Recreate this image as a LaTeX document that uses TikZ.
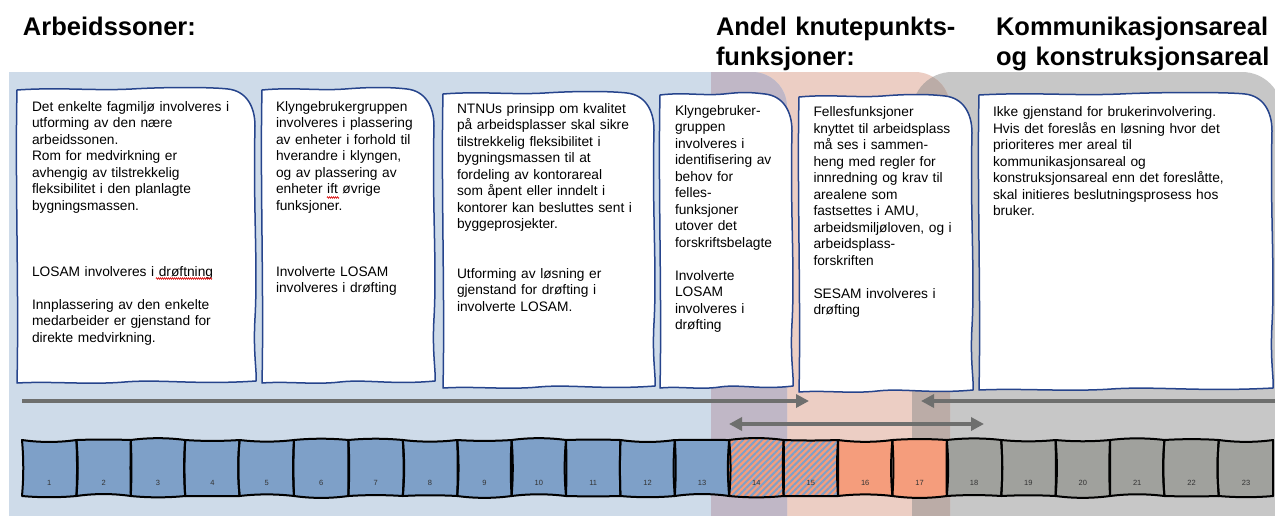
\documentclass[tikz,border=0pt]{standalone}
\usepackage{fontspec}
\setmainfont{Liberation Sans}
\usetikzlibrary{arrows.meta,patterns.meta,decorations.pathmorphing}

\definecolor{bgblue}{RGB}{206,219,233}
\definecolor{bgmauve}{RGB}{192,183,198}
\definecolor{bgpink}{RGB}{236,206,196}
\definecolor{bgbrown}{RGB}{187,172,167}
\definecolor{bggray}{RGB}{199,199,199}
\definecolor{sqblue}{RGB}{126,160,200}
\definecolor{sqsalmon}{RGB}{245,157,124}
\definecolor{sqgray}{RGB}{160,161,157}
\definecolor{tbline}{RGB}{38,68,140}
\definecolor{arrowgray}{RGB}{110,111,110}

\def\bluepath{(9,560) -- (9,72) -- (752,72) .. controls (771.3,72) and (787,87.7) .. (787,107) -- (787,560) -- cycle}
\def\pinkpath{(711,560) -- (711,72) -- (915,72) .. controls (934.3,72) and (950,87.7) .. (950,107) -- (950,560) -- cycle}
\def\graypath{(912,560) -- (912,112) .. controls (912,89.9) and (929.9,72) .. (952,72) -- (1242,72) .. controls (1264.1,72) and (1282,89.9) .. (1282,112) -- (1282,560) -- cycle}

\newcommand\sketchtextbox[4]{%
  \pgfmathsetmacro\tbW{#3-#1}%
  \pgfmathsetmacro\tbH{#4-#2}%
  \filldraw[tbox] ({#1},{#2+2})
   .. controls ({#1+0.18*\tbW},{#2-1}) and ({#1+0.32*\tbW},{#2+3}) .. ({#1+0.48*\tbW},{#2+1})
   .. controls ({#1+0.62*\tbW},{#2-1}) and ({#3-45},{#2-1}) .. ({#3-28},{#2+1})
   .. controls ({#3-10},{#2+3}) and ({#3-1},{#2+18}) .. ({#3-1},{#2+38})
   .. controls ({#3-3},{#2+0.4*\tbH}) and ({#3+2},{#2+0.6*\tbH}) .. ({#3-1},{#2+0.78*\tbH})
   .. controls ({#3-3},{#4-30}) and ({#3+1},{#4-12}) .. ({#3},{#4-2})
   .. controls ({#3-0.25*\tbW},{#4+2}) and ({#3-0.4*\tbW},{#4-4}) .. ({#1+0.45*\tbW},{#4-1})
   .. controls ({#1+0.3*\tbW},{#4+2}) and ({#1+0.15*\tbW},{#4-2}) .. ({#1},{#4})
   .. controls ({#1+2},{#2+0.7*\tbH}) and ({#1-2},{#2+0.3*\tbH}) .. cycle;
}

\newcommand\sqcalc[1]{%
  \pgfmathsetmacro\sqa{22+(#1-1)*54.4}%
  \pgfmathsetmacro\sqb{\sqa+54.4}%
  \pgfmathsetmacro\bwa{2.6*sin(#1*97)}%
  \pgfmathsetmacro\bwb{1.8*sin(#1*61+30)}%
  \pgfmathsetmacro\bwc{2.6*sin(#1*131+10)}%
  \pgfmathsetmacro\bwd{1.8*sin(#1*41+70)}%
}
\def\sqshape{(\sqa,440) .. controls ({\sqa+18},{440+\bwa}) and ({\sqb-18},{440+\bwa}) .. (\sqb,440)
  .. controls ({\sqb+\bwb},459) and ({\sqb+\bwb},477) .. (\sqb,496)
  .. controls ({\sqb-18},{496+\bwc}) and ({\sqa+18},{496+\bwc}) .. (\sqa,496)
  .. controls ({\sqa+\bwd},477) and ({\sqa+\bwd},459) .. cycle}

\begin{document}
\begin{tikzpicture}[x=1pt,y=-1pt,
  body/.style={anchor=north west, inner sep=0pt, outer sep=0pt, text width=320pt, align=left,
    font=\fontsize{13.75}{16.5}\selectfont},
  title/.style={anchor=north west, inner sep=0pt, outer sep=0pt, text width=320pt, align=left,
    font=\fontsize{25.5}{30}\selectfont\bfseries},
  tbox/.style={fill=white, draw=tbline, line width=1.5pt, line join=round},
  sqbox/.style={draw=black, line width=2pt, line join=round},
  numlbl/.style={anchor=base, inner sep=0pt, font=\fontsize{7.5}{9}\selectfont, text=black!80},
  bigarrow/.style={draw=arrowgray, line width=4.5pt, -{Triangle[length=13pt,width=13pt]}},
  bigdarrow/.style={draw=arrowgray, line width=4.5pt, {Triangle[length=13pt,width=13pt]}-{Triangle[length=13pt,width=13pt]}},
  squiggle/.style={draw=red!85!black, line width=0.6pt, decorate, decoration={zigzag, amplitude=0.8pt, segment length=2pt}},
]
\useasboundingbox (0,0) rectangle (1275,515);
\clip (0,0) rectangle (1275,515);
\fill[white] (0,0) rectangle (1275,515);

% background zones
\fill[bggray] \graypath;
\fill[bgpink] \pinkpath;
\begin{scope}
  \clip \graypath;
  \fill[bgbrown] \pinkpath;
\end{scope}
\fill[bgblue] \bluepath;
\begin{scope}
  \clip \pinkpath;
  \fill[bgmauve] \bluepath;
\end{scope}

% titles
\node[title] (h1) at (23,14) {\strut Arbeidssoner:};
\node[title] (h2) at (716,14) {\strut Andel knutepunkts-\\funksjoner:};
\node[title] (h3) at (996,14) {\strut Kommunikasjonsareal\\og konstruksjonsareal};

% text boxes
\sketchtextbox{17}{88}{256}{383}
\sketchtextbox{262}{88}{435}{383}
\sketchtextbox{443}{92}{655}{388}
\sketchtextbox{660}{93}{793}{388}
\sketchtextbox{799}{95}{973}{392}
\sketchtextbox{979}{93}{1273}{390}

\node[body] (t1) at (32,99.5) {\strut Det enkelte fagmiljø involveres i\\
utforming av den nære\\
arbeidssonen.\\
Rom for medvirkning er\\
avhengig av tilstrekkelig\\
fleksibilitet i den planlagte\\
bygningsmassen.\\ \mbox{}\\ \mbox{}\\ \mbox{}\\
LOSAM involveres i drøftning\\ \mbox{}\\
Innplassering av den enkelte\\
medarbeider er gjenstand for\\
direkte medvirkning.};

\node[body] (t2) at (276,99.5) {\strut Klyngebrukergruppen\\
involveres i plassering\\
av enheter i forhold til\\
hverandre i klyngen,\\
og av plassering av\\
enheter ift øvrige\\
funksjoner.\\ \mbox{}\\ \mbox{}\\ \mbox{}\\
Involverte LOSAM\\
involveres i drøfting};

\node[body] (t3) at (457,101.5) {\strut NTNUs prinsipp om kvalitet\\
på arbeidsplasser skal sikre\\
tilstrekkelig fleksibilitet i\\
bygningsmassen til at\\
fordeling av kontorareal\\
som åpent eller inndelt i\\
kontorer kan besluttes sent i\\
byggeprosjekter.\\ \mbox{}\\ \mbox{}\\
Utforming av løsning er\\
gjenstand for drøfting i\\
involverte LOSAM.};

\node[body] (t4) at (675,103.5) {\strut Klyngebruker-\\
gruppen\\
involveres i\\
identifisering av\\
behov for\\
felles-\\
funksjoner\\
utover det\\
forskriftsbelagte\\ \mbox{}\\
Involverte\\
LOSAM\\
involveres i\\
drøfting};

\node[body] (t5) at (813.5,105) {\strut Fellesfunksjoner\\
knyttet til arbeidsplass\\
må ses i sammen-\\
heng med regler for\\
innredning og krav til\\
arealene som\\
fastsettes i AMU,\\
arbeidsmiljøloven, og i\\
arbeidsplass-\\
forskriften\\ \mbox{}\\
SESAM involveres i\\
drøfting};

\node[body] (t6) at (993,105) {\strut Ikke gjenstand for brukerinvolvering.\\
Hvis det foreslås en løsning hvor det\\
prioriteres mer areal til\\
kommunikasjonsareal og\\
konstruksjonsareal enn det foreslåtte,\\
skal initieres beslutningsprosess hos\\
bruker.};

% spell-check squiggles
\coordinate (q1s) at (156,278.5);
\coordinate (q1e) at (212,278.5);
\coordinate (q2s) at (327,197.5);
\coordinate (q2e) at (339,197.5);
\draw[squiggle] (q1s) -- (q1e);
\draw[squiggle] (q2s) -- (q2e);

% arrows
\coordinate (a1s) at (22,401);
\coordinate (a1e) at (809,401);
\coordinate (a2s) at (1280,401);
\coordinate (a2e) at (921,401);
\coordinate (a3s) at (729,424);
\coordinate (a3e) at (984,424);
\draw[bigarrow] (a1s) -- (a1e);
\draw[bigarrow] (a2s) -- (a2e);
\draw[bigdarrow] (a3s) -- (a3e);

% squares
\foreach \i/\col in {1/sqblue,2/sqblue,3/sqblue,4/sqblue,5/sqblue,6/sqblue,7/sqblue,8/sqblue,9/sqblue,10/sqblue,11/sqblue,12/sqblue,13/sqblue,16/sqsalmon,17/sqsalmon,18/sqgray,19/sqgray,20/sqgray,21/sqgray,22/sqgray,23/sqgray}{%
  \sqcalc{\i}\fill[\col] \sqshape;
}
\foreach \i in {14,15}{%
  \sqcalc{\i}\fill[sqsalmon] \sqshape;
  \fill[pattern={Lines[angle=45,distance=4.5pt,line width=2pt]}, pattern color=sqblue] \sqshape;
}
\foreach \i in {1,...,23}{%
  \sqcalc{\i}\draw[sqbox] \sqshape;
}
\foreach \i in {1,...,23}{%
  \pgfmathsetmacro\sqc{22+(\i-0.5)*54.4}
  \node[numlbl] (n\i) at (\sqc,485) {\i};
}
\end{tikzpicture}
\end{document}
